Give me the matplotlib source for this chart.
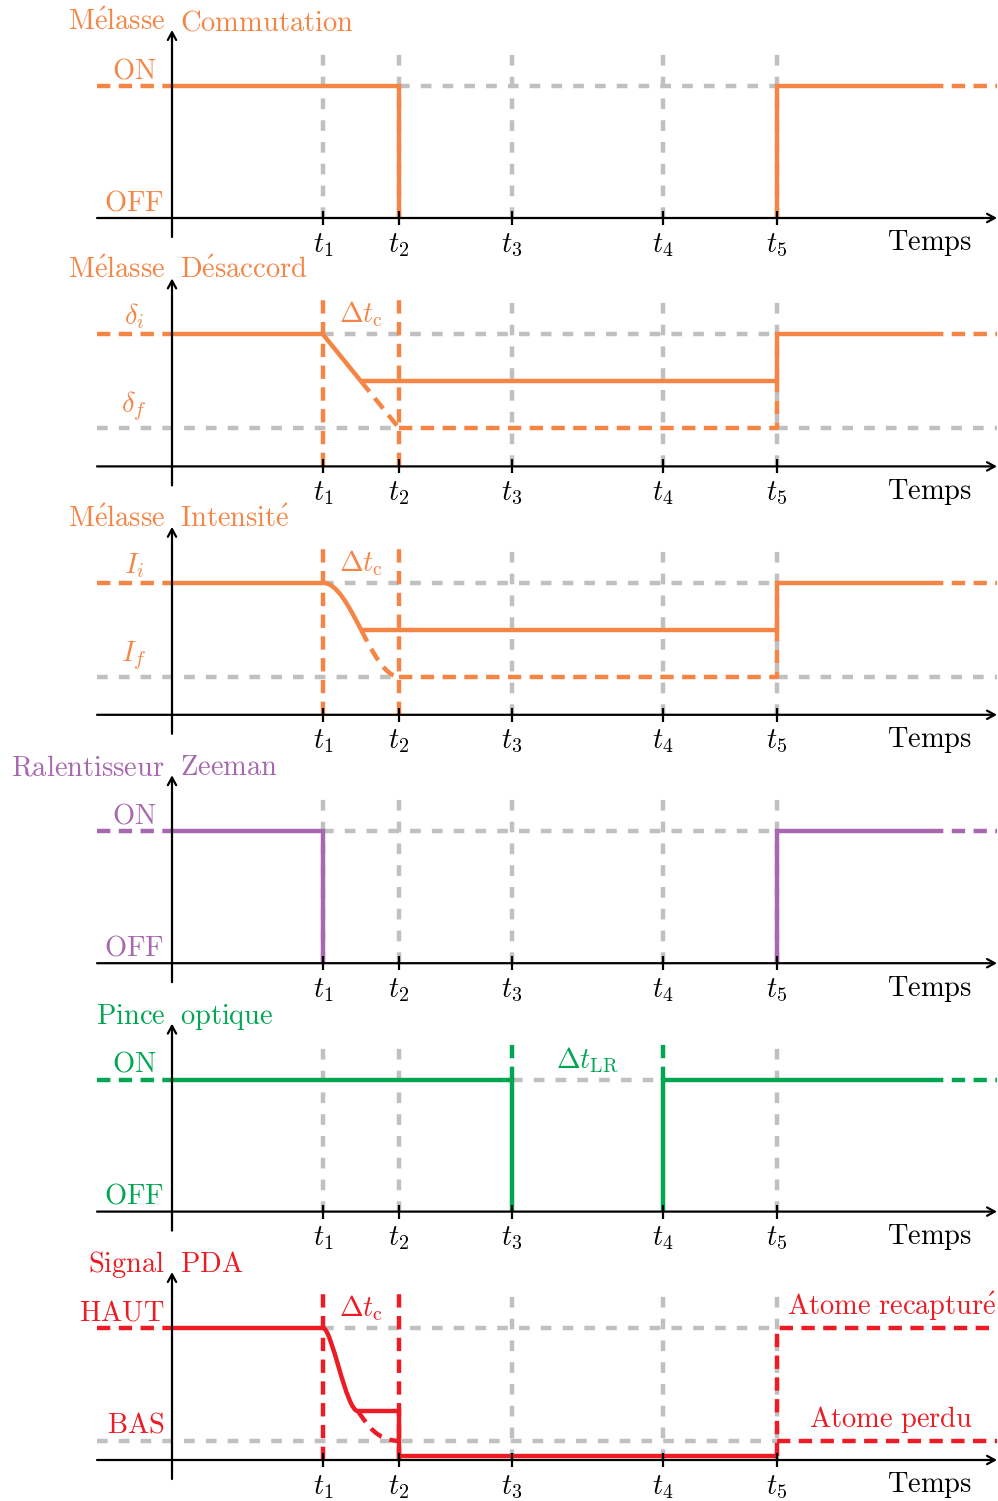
import matplotlib
matplotlib.use('Agg')
import matplotlib.pyplot as plt
from matplotlib.path import Path
from matplotlib.patches import PathPatch

plt.rcParams['mathtext.fontset'] = 'cm'
plt.rcParams['font.family'] = ['DejaVu Serif']

# ------------------------------------------------------------------ data
t_labels = [r'$t_1$', r'$t_2$', r'$t_3$', r'$t_4$', r'$t_5$']
t_times = [1.51, 2.27, 3.40, 4.91, 6.05]
x_left, x_right, x_fade = -0.75, 8.25, 7.58
grid_top = 1.29

title_first = ['Mélasse', 'Mélasse', 'Mélasse', 'Ralentisseur', 'Pince', 'Signal']
title_second = ['Commutation', 'Désaccord', 'Intensité', 'Zeeman', 'optique', 'PDA']
high_labels = ['ON', r'$\delta_i$', r'$I_i$', 'ON', 'ON', 'HAUT']
low_labels = ['OFF', r'$\delta_f$', r'$I_f$', 'OFF', 'OFF', 'BAS']
colors = ['#F58544', '#F58544', '#F58544', '#A868AF', '#00A651', '#ED1C24']
grey = '#C0C0C0'

level_on = 1.0
level_off = 0.0
# Mélasse désaccord / intensité
detuning_final = 0.29
detuning_mid = 0.645
intensity_final = 0.29
intensity_mid = 0.645
ramp_end_x = 1.89
# Signal PDA
pda_low = 0.145
pda_mid = 0.37
pda_floor = 0.03
pda_knee_x = 1.86

# Bezier control points of the smooth ramps (x, y)
intensity_solid_ctrl = [(1.51, 1.0), (1.648, 1.0), (1.769, 0.8225), (1.89, 0.645)]
intensity_dash_ctrl = [(1.89, 0.645), (2.011, 0.4675), (2.132, 0.29), (2.27, 0.29)]
pda_solid_ctrl = [(1.51, 1.0), (1.60, 1.0), (1.74, 0.37), (1.86, 0.37)]
pda_dash_ctrl = [(1.86, 0.37), (1.95, 0.27), (2.05, 0.145), (2.27, 0.145)]

# ------------------------------------------------------------------ style
FS = 20.5
LW = 3.2
AX_LW = 1.6
COL_DASH = (3.0, 1.9)
GREY_DASH = (2.4, 2.5)

fig = plt.figure(figsize=(9.98, 15.01), dpi=100)
H = 1501.0
PANEL = 248.4
BASE = 218.0
UNIT = 132.0


def mrm(s):
    return r'$\mathrm{' + s.replace(' ', r'\ ').replace('é', r'\acute{e}') + '}$'


def lab(s):
    return s if s.startswith('$') else mrm(s)


def solid(ax, xs, ys, c, z=3, lw=LW):
    ax.plot(xs, ys, color=c, lw=lw, solid_capstyle='butt', solid_joinstyle='miter',
            clip_on=False, zorder=z)


def dashed(ax, xs, ys, c, z=3, dashes=COL_DASH, lw=LW):
    ax.plot(xs, ys, color=c, lw=lw, dashes=dashes, dash_capstyle='butt',
            clip_on=False, zorder=z)


def bez(ax, pts, c, dash=False):
    path = Path(pts, [Path.MOVETO, Path.CURVE4, Path.CURVE4, Path.CURVE4])
    kw = dict(facecolor='none', edgecolor=c, lw=LW, clip_on=False, zorder=3,
              capstyle='butt')
    if dash:
        kw['linestyle'] = (0, COL_DASH)
    ax.add_patch(PathPatch(path, **kw))


axes = []
for k in range(6):
    ax = fig.add_axes([0, 1 - PANEL * (k + 1) / H, 1, PANEL / H])
    ax.set_xlim(-172 / 100, (998 - 172) / 100)
    ax.set_ylim(-(PANEL - BASE) / UNIT, BASE / UNIT)
    ax.axis('off')
    axes.append(ax)

t1, t2, t3, t4, t5 = t_times

for k, ax in enumerate(axes):
    c = colors[k]
    # ---- axes
    ax.annotate('', xy=(x_right, 0), xytext=(x_left, 0),
                arrowprops=dict(arrowstyle='->,head_length=0.55,head_width=0.3',
                                lw=AX_LW, color='black', shrinkA=0, shrinkB=0,
                                mutation_scale=10), zorder=6, annotation_clip=False)
    ax.annotate('', xy=(0, 1.424), xytext=(0, -0.144),
                arrowprops=dict(arrowstyle='->,head_length=0.55,head_width=0.3',
                                lw=AX_LW, color='black', shrinkA=0, shrinkB=0,
                                mutation_scale=10), zorder=6, annotation_clip=False)
    for t, tl in zip(t_times, t_labels):
        ax.plot([t, t], [-0.053, 0.053], color='black', lw=AX_LW, zorder=6, clip_on=False,
                solid_capstyle='butt')
        ax.text(t, -0.255, tl, ha='center', va='baseline', fontsize=FS)
    ax.text(x_fade, -0.245, mrm('Temps'), ha='center', va='baseline', fontsize=FS)

    # ---- title
    ax.text(-0.07, 1.424, mrm(title_first[k]), ha='right', va='baseline', fontsize=FS, color=c)
    ax.text(0.08, 1.424, mrm(title_second[k]), ha='left', va='baseline', fontsize=FS, color=c)

# ---------------- panel 1 : Mélasse commutation
ax = axes[0]; c = colors[0]
for t in t_times:
    dashed(ax, [t, t], [0, grid_top], grey, z=1, dashes=GREY_DASH)
dashed(ax, [t2, t5], [level_on, level_on], grey, z=1, dashes=GREY_DASH)
dashed(ax, [x_left, 0], [level_on, level_on], c)
solid(ax, [0, t2, t2], [level_on, level_on, level_off], c)
solid(ax, [t5, t5, x_fade], [level_off, level_on, level_on], c)
dashed(ax, [x_fade, x_right], [level_on, level_on], c)
ax.text(-0.375, 1.06, lab(high_labels[0]), ha='center', va='baseline', fontsize=FS, color=c)
ax.text(-0.38, 0.055, lab(low_labels[0]), ha='center', va='baseline', fontsize=FS, color=c)

# ---------------- panels 2 & 3 : désaccord / intensité
for k, final, mid in [(1, detuning_final, detuning_mid), (2, intensity_final, intensity_mid)]:
    ax = axes[k]; c = colors[k]
    for t in t_times[2:]:
        dashed(ax, [t, t], [0, grid_top], grey, z=1, dashes=GREY_DASH)
    for t in t_times[:2]:
        dashed(ax, [t, t], [0, grid_top], c, z=2)
    dashed(ax, [t1, t5], [level_on, level_on], grey, z=1, dashes=GREY_DASH)
    dashed(ax, [x_left, t2], [final, final], grey, z=1, dashes=GREY_DASH)
    dashed(ax, [t5, x_right], [final, final], grey, z=1, dashes=GREY_DASH)
    dashed(ax, [x_left, 0], [level_on, level_on], c)
    solid(ax, [0, t1], [level_on, level_on], c)
    if k == 1:
        solid(ax, [t1, ramp_end_x], [level_on, mid], c)
        dashed(ax, [ramp_end_x, t2], [mid, final], c)
    else:
        bez(ax, intensity_solid_ctrl, c)
        bez(ax, intensity_dash_ctrl, c, dash=True)
    solid(ax, [ramp_end_x, t5, t5, x_fade], [mid, mid, level_on, level_on], c)
    dashed(ax, [x_fade, x_right], [level_on, level_on], c)
    dashed(ax, [t2, t5, t5], [final, final, mid], c)
    ax.text(-0.38, 1.075, high_labels[k], ha='center', va='baseline', fontsize=FS, color=c)
    ax.text(-0.38, 0.41, low_labels[k], ha='center', va='baseline', fontsize=FS, color=c)
    ax.text(1.895, 1.09, r'$\Delta t_{\mathrm{c}}$', ha='center', va='baseline',
            fontsize=FS, color=c)

# ---------------- panel 4 : ralentisseur Zeeman
ax = axes[3]; c = colors[3]
for t in t_times:
    dashed(ax, [t, t], [0, grid_top], grey, z=1, dashes=GREY_DASH)
dashed(ax, [t1, t5], [level_on, level_on], grey, z=1, dashes=GREY_DASH)
dashed(ax, [x_left, 0], [level_on, level_on], c)
solid(ax, [0, t1, t1], [level_on, level_on, level_off], c)
solid(ax, [t5, t5, x_fade], [level_off, level_on, level_on], c)
dashed(ax, [x_fade, x_right], [level_on, level_on], c)
ax.text(-0.375, 1.06, lab(high_labels[3]), ha='center', va='baseline', fontsize=FS, color=c)
ax.text(-0.38, 0.055, lab(low_labels[3]), ha='center', va='baseline', fontsize=FS, color=c)

# ---------------- panel 5 : pince optique
ax = axes[4]; c = colors[4]
for t in [t1, t2, t5]:
    dashed(ax, [t, t], [0, grid_top], grey, z=1, dashes=GREY_DASH)
for t in [t3, t4]:
    dashed(ax, [t, t], [level_on, grid_top], c, z=2)
dashed(ax, [t3, t4], [level_on, level_on], grey, z=1, dashes=GREY_DASH)
dashed(ax, [x_left, 0], [level_on, level_on], c)
solid(ax, [0, t3, t3], [level_on, level_on, level_off], c)
solid(ax, [t4, t4, x_fade], [level_off, level_on, level_on], c)
dashed(ax, [x_fade, x_right], [level_on, level_on], c)
ax.text(-0.375, 1.06, lab(high_labels[4]), ha='center', va='baseline', fontsize=FS, color=c)
ax.text(-0.38, 0.065, lab(low_labels[4]), ha='center', va='baseline', fontsize=FS, color=c)
ax.text(4.16, 1.09, r'$\Delta t_{\mathrm{LR}}$', ha='center', va='baseline',
        fontsize=FS, color=c)

# ---------------- panel 6 : signal PDA
ax = axes[5]; c = colors[5]
for t in [t3, t4, t5]:
    dashed(ax, [t, t], [0, grid_top], grey, z=1, dashes=GREY_DASH)
for t in [t1, t2]:
    dashed(ax, [t, t], [0, grid_top], c, z=2)
dashed(ax, [t1, t5], [level_on, level_on], grey, z=1, dashes=GREY_DASH)
dashed(ax, [x_left, t5], [pda_low, pda_low], grey, z=1, dashes=GREY_DASH)
dashed(ax, [x_left, 0], [level_on, level_on], c)
solid(ax, [0, t1], [level_on, level_on], c)
bez(ax, pda_solid_ctrl, c)
bez(ax, pda_dash_ctrl, c, dash=True)
solid(ax, [pda_knee_x, t2, t2, t5], [pda_mid, pda_mid, pda_floor, pda_floor], c)
dashed(ax, [t5, t5, x_right], [pda_floor, level_on, level_on], c)
dashed(ax, [t5, x_right], [pda_low, pda_low], c)
ax.text(-0.505, 1.06, lab(high_labels[5]), ha='center', va='baseline', fontsize=FS, color=c)
ax.text(-0.365, 0.205, lab(low_labels[5]), ha='center', va='baseline', fontsize=FS, color=c)
ax.text(1.895, 1.09, r'$\Delta t_{\mathrm{c}}$', ha='center', va='baseline',
        fontsize=FS, color=c)
ax.text(7.20, 1.10, mrm('Atome recapturé'), ha='center', va='baseline', fontsize=FS, color=c)
ax.text(7.19, 0.25, mrm('Atome perdu'), ha='center', va='baseline', fontsize=FS, color=c)

fig.savefig('out.png', dpi=100)
